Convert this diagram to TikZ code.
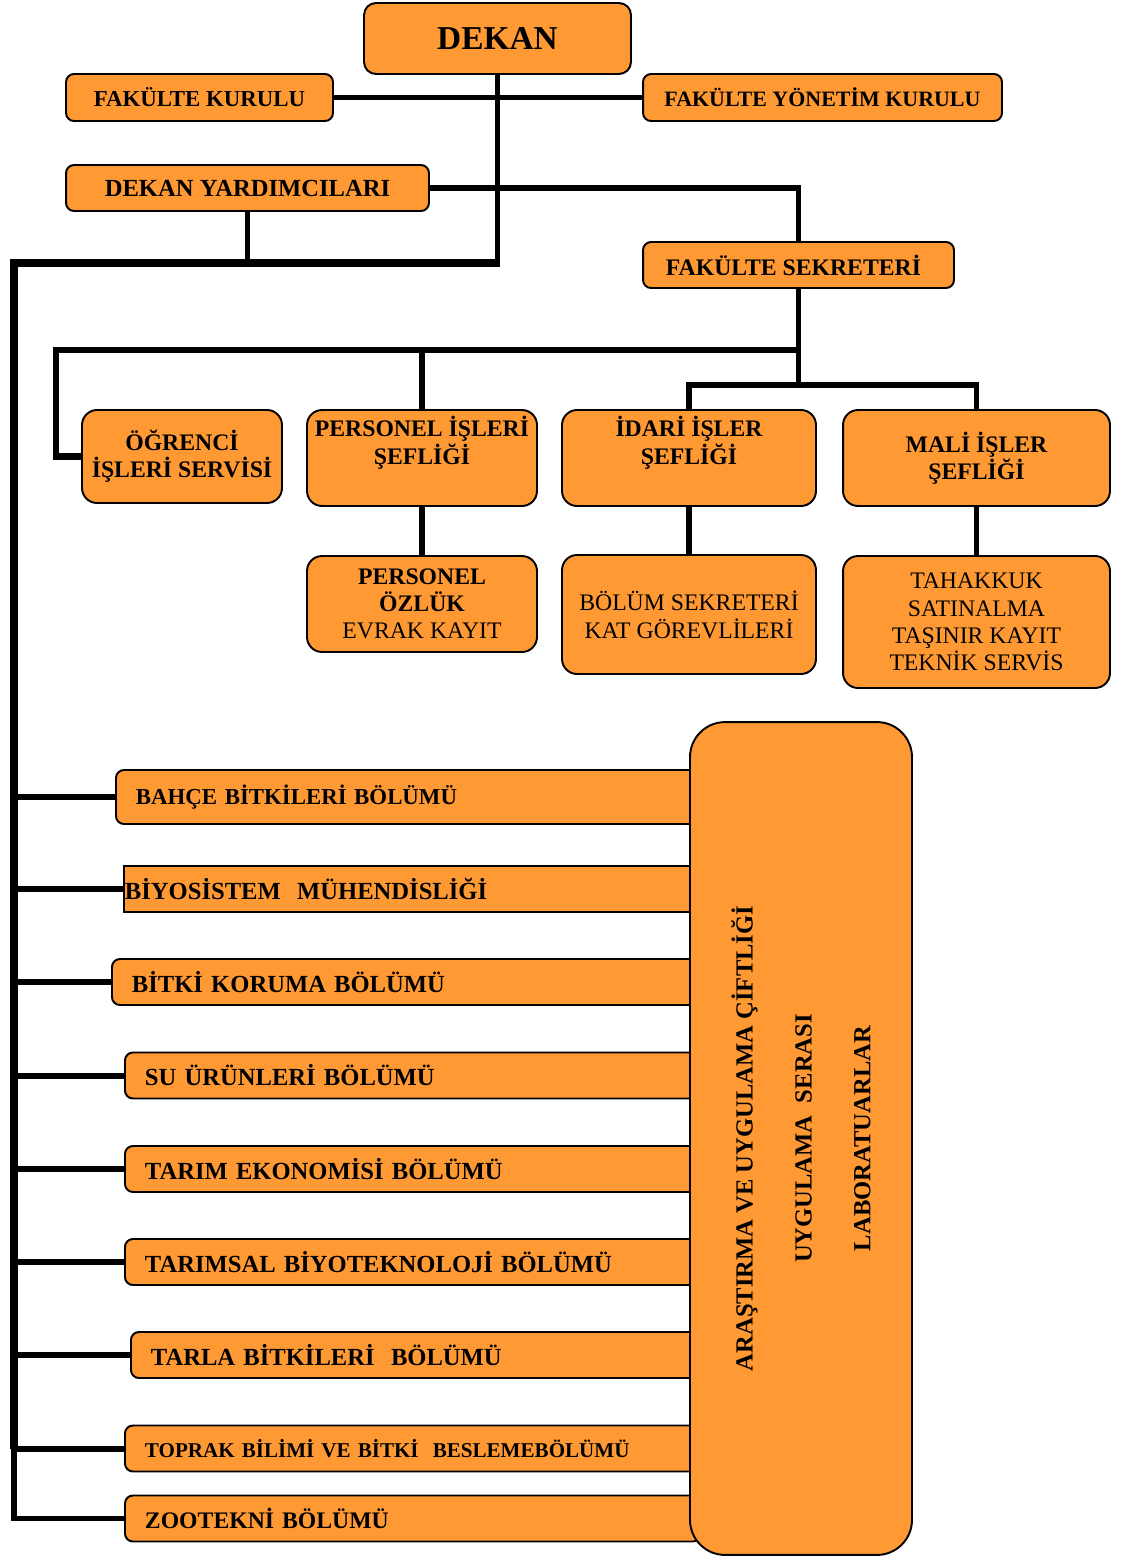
\documentclass[tikz,border=0pt]{standalone}
\usepackage{fontspec}
\setmainfont{Liberation Serif}
\definecolor{turuncu}{HTML}{FF9933}

\begin{document}
\begin{tikzpicture}[x=0.02cm, y=-0.02cm, line width=3.2pt]
  \tikzstyle{kutu}=[draw=black, fill=turuncu, line width=1.1pt, rounded corners=0.16cm, inner sep=0pt, align=center, font=\bfseries\fontsize{13.5}{15.5}\selectfont]
  \tikzstyle{bolum}=[kutu, anchor=west, align=left, inner xsep=0.4cm, minimum height=0.92cm, font=\bfseries\fontsize{14}{16}\selectfont]

  \useasboundingbox (0,0) rectangle (1123,1559);

  % ust kademe
  \node[kutu, rounded corners=0.24cm, minimum width=5.34cm, minimum height=1.42cm, font=\bfseries\fontsize{19}{22}\selectfont] (dekan) at (497.5,38.5) {DEKAN};
  \node[kutu, minimum width=5.34cm, minimum height=0.94cm, font=\bfseries\fontsize{13}{15}\selectfont] (fk) at (199.5,97.5) {FAKÜLTE KURULU};
  \node[kutu, minimum width=7.18cm, minimum height=0.94cm, font=\bfseries\fontsize{12.5}{15}\selectfont] (fyk) at (822.5,97.5) {FAKÜLTE YÖNETİM KURULU};
  \node[kutu, minimum width=7.26cm, minimum height=0.92cm, font=\bfseries\fontsize{14}{16}\selectfont] (dy) at (247.5,188) {DEKAN YARDIMCILARI};
  \node[kutu, minimum width=6.22cm, minimum height=0.92cm] (fs) at (798.5,265) {FAKÜLTE SEKRETERİ\hspace{0.2cm}};

  % idari birimler
  \node[kutu, rounded corners=0.3cm, minimum width=4cm, minimum height=1.86cm] (ogrenci) at (182,456.5) {ÖĞRENCİ\\İŞLERİ SERVİSİ};
  \node[kutu, rounded corners=0.3cm, minimum width=4.6cm, minimum height=1.92cm] (personel) at (422,458) {PERSONEL İŞLERİ\\ŞEFLİĞİ\\\strut};
  \node[kutu, rounded corners=0.3cm, minimum width=4.6cm, minimum height=1.92cm] (ozluk) at (422,604) {PERSONEL\\ÖZLÜK\\\mdseries EVRAK KAYIT};
  \node[kutu, rounded corners=0.3cm, minimum width=5.08cm, minimum height=1.92cm] (idari) at (689,458) {İDARİ İŞLER\\ŞEFLİĞİ\\\strut};
  \node[kutu, rounded corners=0.3cm, minimum width=5.08cm, minimum height=2.38cm, font=\fontsize{13.5}{16}\selectfont] (bolumsek) at (689,614.5) {BÖLÜM SEKRETERİ\\KAT GÖREVLİLERİ};
  \node[kutu, rounded corners=0.3cm, minimum width=5.34cm, minimum height=1.92cm] (mali) at (976.5,458) {MALİ İŞLER\\ŞEFLİĞİ};
  \node[kutu, rounded corners=0.3cm, minimum width=5.34cm, minimum height=2.64cm, font=\fontsize{13.5}{15.5}\selectfont] (tahakkuk) at (976.5,622) {TAHAKKUK\\SATINALMA\\TAŞINIR KAYIT\\TEKNİK SERVİS};

  % bolumler
  \node[bolum, text width=10.9cm, minimum height=1.08cm, font=\bfseries\fontsize{13}{15}\selectfont] (bahce) at (115,797) {BAHÇE BİTKİLERİ BÖLÜMÜ};
  \node[bolum, sharp corners, inner xsep=0.02cm, text width=11.5cm] (biyosistem) at (123,889) {BİYOSİSTEM\ \ MÜHENDİSLİĞİ};
  \node[bolum, text width=10.98cm] (koruma) at (111,982) {BİTKİ KORUMA BÖLÜMÜ};
  \node[bolum, text width=10.72cm] (su) at (124,1075.5) {SU ÜRÜNLERİ BÖLÜMÜ};
  \node[bolum, text width=10.72cm] (ekonomi) at (124,1169) {TARIM EKONOMİSİ BÖLÜMÜ};
  \node[bolum, text width=10.72cm] (biyotek) at (124,1262) {TARIMSAL BİYOTEKNOLOJİ BÖLÜMÜ};
  \node[bolum, text width=10.6cm] (tarla) at (130,1355) {TARLA BİTKİLERİ\ \ BÖLÜMÜ};
  \node[bolum, text width=10.72cm, font=\bfseries\fontsize{12}{14}\selectfont] (toprak) at (124,1448.5) {TOPRAK BİLİMİ VE BİTKİ\ \ BESLEMEBÖLÜMÜ};
  \node[bolum, text width=10.72cm, font=\bfseries\fontsize{13.5}{15}\selectfont] (zootekni) at (124,1518.5) {ZOOTEKNİ BÖLÜMÜ};

  \node[kutu, rounded corners=0.7cm, rotate=90, minimum width=16.66cm, minimum height=4.44cm, font=\bfseries\fontsize{14}{33.5}\selectfont] (ciftlik) at (801,1138.5) {ARAŞTIRMA VE UYGULAMA ÇİFTLİĞİ\\UYGULAMA\ \ SERASI\\LABORATUARLAR};

  % baglantilar
  \coordinate (kok) at (14,263);
  \coordinate (sek1) at (798.5,350);
  \coordinate (sek2) at (798.5,385);

  \draw (fk.east) -- (fyk.west);
  \draw (dekan.south) -- (dekan.south |- kok) -- ++(0,4);
  \draw (dy.east) -- (dy.east -| dekan.south);
  \draw (dekan.south |- dy.east) -| (fs.north);
  \draw (dy.south) -- (dy.south |- kok);
  \draw[line width=4.6pt] (dekan.south |- kok) -- (kok) -- (kok |- toprak.west);
  \foreach \b in {bahce,biyosistem,koruma,su,ekonomi,biyotek,tarla,toprak}
    \draw[line width=3.4pt] (kok |- \b.west) -- (\b.west);
  \draw (kok |- toprak.west) -- (kok |- zootekni.west) -- (zootekni.west);

  \draw (fs.south) -- (sek2);
  \draw[line width=3.6pt] (ogrenci.west) -- ++(-25,0) |- (sek1);
  \draw (personel.north) -- (personel.north |- sek1);
  \draw (idari.north) |- (sek2) -| (mali.north);
  \draw (personel.south) -- (ozluk.north);
  \draw (idari.south) -- (bolumsek.north);
  \draw (mali.south) -- (tahakkuk.north);
\end{tikzpicture}
\end{document}
